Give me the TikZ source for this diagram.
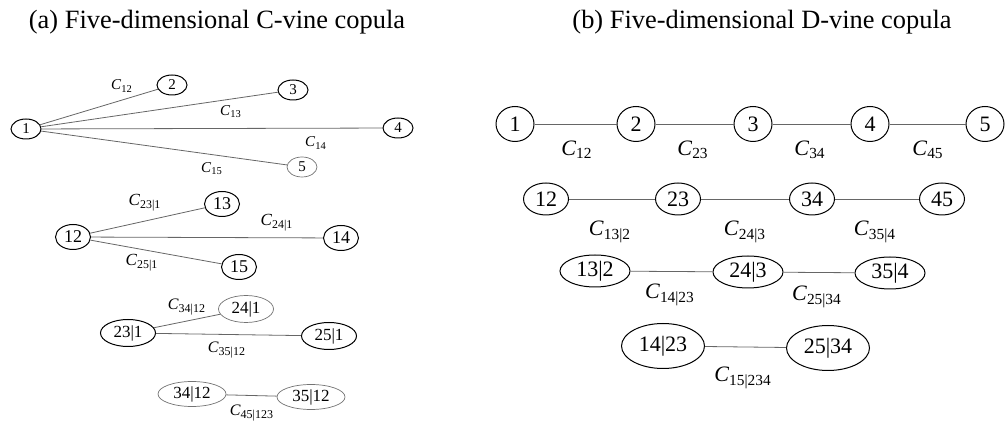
\documentclass[tikz,border=0pt]{standalone}
\usepackage{fontspec}
\setmainfont{Liberation Serif}
\usetikzlibrary{shapes.geometric}
\newcommand{\Cop}[1]{\textit{C}\textsubscript{#1}}

\begin{document}
\begin{tikzpicture}[x=0.5pt,y=-0.5pt,
  vnode/.style={ellipse,draw,line width=0.5pt,inner sep=0pt},
  gnode/.style={vnode,draw=black!55,line width=0.35pt},
  cone/.style={minimum width=15pt,minimum height=10pt,font=\fontsize{7.5}{8}\selectfont},
  ctwo/.style={minimum width=17.5pt,minimum height=12.5pt,font=\fontsize{9}{10}\selectfont},
  cthree/.style={minimum width=27.5pt,minimum height=13.5pt,font=\fontsize{8.5}{9}\selectfont},
  cfour/.style={minimum width=34pt,minimum height=12.5pt,font=\fontsize{8.5}{9}\selectfont},
  done/.style={minimum width=19pt,minimum height=17.5pt,font=\fontsize{11}{12}\selectfont},
  dtwo/.style={minimum width=22.5pt,minimum height=16pt,font=\fontsize{11}{12}\selectfont},
  dthree/.style={minimum width=35pt,minimum height=16pt,font=\fontsize{11}{12}\selectfont},
  dfour/.style={minimum width=41.5pt,minimum height=22.5pt,font=\fontsize{11}{12}\selectfont},
  edge/.style={draw=black!60,line width=0.4pt},
  clab/.style={inner sep=0pt,font=\fontsize{7.5}{8}\selectfont},
  dlab/.style={inner sep=0pt,font=\fontsize{11}{12}\selectfont}]
  \useasboundingbox (0,0) rectangle (1005,421);
  % titles
  \node[font=\fontsize{13.2}{15}\selectfont] (ta) at (217,22){(a) Five-dimensional C-vine copula};
  \node[font=\fontsize{13.2}{15}\selectfont] (tb) at (762,22){(b) Five-dimensional D-vine copula};
  % C-vine, tree 1
  \node[vnode,cone] (c1) at (26,129){1};
  \node[vnode,cone] (c2) at (172,85){2};
  \node[vnode,cone] (c3) at (293,90){3};
  \node[vnode,cone] (c4) at (398,128){4};
  \node[gnode,cone] (c5) at (302,167){5};
  \foreach \t in {2,3,4,5} \draw[edge] (c1)--(c\t);
  \node[clab] (l12) at (122,86){\Cop{12}};
  \node[clab] (l13) at (231,112){\Cop{13}};
  \node[clab] (l14) at (316,143){\Cop{14}};
  \node[clab] (l15) at (212,169){\Cop{15}};
  % C-vine, tree 2
  \node[vnode,ctwo] (c12) at (73,237){12};
  \node[vnode,ctwo] (c13) at (222,204){13};
  \node[vnode,ctwo] (c14) at (341,238){14};
  \node[vnode,ctwo] (c15) at (239,267){15};
  \foreach \t in {13,14,15} \draw[edge] (c12)--(c\t);
  \node[clab,font=\fontsize{8.5}{9}\selectfont] (l231) at (145,203){\Cop{23|1}};
  \node[clab,font=\fontsize{8.5}{9}\selectfont] (l241) at (277,223){\Cop{24|1}};
  \node[clab,font=\fontsize{8.5}{9}\selectfont] (l251) at (142,263){\Cop{25|1}};
  % C-vine, tree 3
  \node[vnode,cthree] (c231) at (128,333){23|1};
  \node[gnode,cthree] (c241) at (246,309){24|1};
  \node[vnode,cthree] (c251) at (329,336){25|1};
  \draw[edge] (c231)--(c241);
  \draw[edge] (c231)--(c251);
  \node[clab,font=\fontsize{8}{9}\selectfont] (l3412) at (187,307){\Cop{34|12}};
  \node[clab,font=\fontsize{8}{9}\selectfont] (l3512) at (227,350){\Cop{35|12}};
  % C-vine, tree 4
  \node[gnode,cfour] (c3412) at (192,394){34|12};
  \node[gnode,cfour] (c3512) at (311,397){35|12};
  \draw[edge] (c3412)--(c3512);
  \node[clab,font=\fontsize{8}{9}\selectfont] (l45123) at (252,413){\Cop{45|123}};
  % D-vine, tree 1
  \foreach \n/\x in {1/515,2/636,3/753,4/870,5/985}
    \node[vnode,done] (d\n) at (\x,124){\n};
  \foreach \a/\b/\x in {1/2/577,2/3/693,3/4/810,4/5/928}{
    \draw[edge] (d\a)--(d\b);
    \node[dlab] (m\a\b) at (\x,150){\Cop{\a\b}};
  }
  % D-vine, tree 2
  \foreach \n/\x in {12/546,23/678,34/812,45/942}
    \node[vnode,dtwo] (d\n) at (\x,199){\n};
  \draw[edge] (d12)--(d23);
  \draw[edge] (d23)--(d34);
  \draw[edge] (d34)--(d45);
  \node[dlab] (m132) at (610,232){\Cop{13|2}};
  \node[dlab] (m243) at (745,232){\Cop{24|3}};
  \node[dlab] (m354) at (875,232){\Cop{35|4}};
  % D-vine, tree 3
  \node[vnode,dthree] (d132) at (595,271){13|2};
  \node[vnode,dthree] (d243) at (748,272){24|3};
  \node[vnode,dthree] (d354) at (890,273){35|4};
  \draw[edge] (d132)--(d243);
  \draw[edge] (d243)--(d354);
  \node[dlab] (m1423) at (670,295){\Cop{14|23}};
  \node[dlab] (m2534) at (817,297){\Cop{25|34}};
  % D-vine, tree 4
  \node[vnode,dfour] (d1423) at (663,346){14|23};
  \node[vnode,dfour] (d2534) at (828,348){25|34};
  \draw[edge] (d1423)--(d2534);
  \node[dlab] (m15234) at (743,378){\Cop{15|234}};
\end{tikzpicture}
\end{document}
